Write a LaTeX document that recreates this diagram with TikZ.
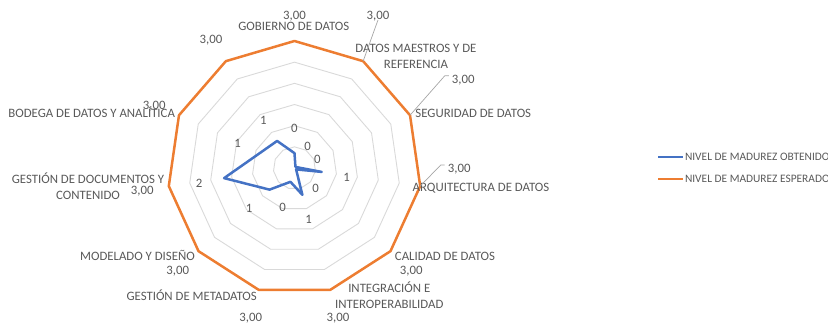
\documentclass[tikz,border=0pt]{standalone}
\usepackage{fontspec}
\setmainfont{Carlito}
\usepackage{xcolor}
\usetikzlibrary{positioning, calc}
\definecolor{GridGray}{RGB}{217,217,217}
\definecolor{TextGray}{RGB}{89,89,89}
\definecolor{LeaderGray}{RGB}{166,166,166}
\definecolor{ObtBlue}{RGB}{68,114,196}
\definecolor{EspOrange}{RGB}{237,125,49}
\tikzstyle{ring} = [GridGray, line width=0.9pt, line join=round]
\tikzstyle{serie} = [line width=2.5pt, line join=round]
\tikzstyle{etiqueta} = [font=\fontsize{12.8}{15.5}\selectfont, text=TextGray, inner sep=0pt, align=center, anchor=base]
\tikzstyle{leyenda} = [font=\fontsize{11.4}{14}\selectfont, text=TextGray, inner sep=0pt]
\tikzstyle{leader} = [LeaderGray, line width=0.7pt]

\begin{document}
\begin{tikzpicture}[x=1pt, y=-1pt]
\useasboundingbox (0,0) rectangle (828,325);
\begin{scope}[shift={(294.5,168)}]
  \foreach \k in {1,...,6} {
    \draw[ring] (-90:{127*\k/6}) \foreach \i in {1,...,10} {-- ({\i*360/11-90}:{127*\k/6})} -- cycle;
  }
  \foreach \i in {0,...,10} {
    \coordinate (v\i) at ({\i*360/11-90}:127);
  }
  \draw[serie, EspOrange] (v0) \foreach \i in {1,...,10} {-- (v\i)} -- cycle;
  \draw[serie, ObtBlue] (-90:{0.35*127/3}) \foreach \i/\v in {1/0.04, 2/0.05, 3/0.65, 4/0.05, 5/0.66, 6/0.34, 7/0.78, 8/1.68, 9/0.88, 10/0.76} {-- ({\i*360/11-90}:{\v*127/3})} -- cycle;
\end{scope}

\node[etiqueta] (cat0) at (293.8,30.1) {GOBIERNO DE DATOS};
\node[etiqueta] (cat1) at (416,68.1) {DATOS MAESTROS Y DE\\REFERENCIA};
\node[etiqueta] (cat2) at (473.3,117.4) {SEGURIDAD DE DATOS};
\node[etiqueta] (cat3) at (481,191.8) {ARQUITECTURA DE DATOS};
\node[etiqueta] (cat4) at (445,260.8) {CALIDAD DE DATOS};
\node[etiqueta] (cat5) at (389.3,308.1) {INTEGRACIÓN E\\INTEROPERABILIDAD};
\node[etiqueta] (cat6) at (191.7,300.8) {GESTIÓN DE METADATOS};
\node[etiqueta] (cat7) at (137.5,260.1) {MODELADO Y DISEÑO};
\node[etiqueta] (cat8) at (88,199.1) {GESTIÓN DE DOCUMENTOS Y\\CONTENIDO};
\node[etiqueta] (cat9) at (91.7,117.4) {BODEGA DE DATOS Y ANALÍTICA};

\foreach \n/\x/\y in {0/294.5/15, 1/378/15, 2/463.3/79, 3/459.2/168.3, 4/411.2/270, 5/338/317.3, 6/250.8/317.3, 7/177.8/270, 8/142.2/190, 9/154.2/105, 10/211/39.3} {
  \node[etiqueta] (val\n) at (\x,\y+4.1) {3,00};
}
\draw[leader] (v1) -- ($(val1.south)+(0,-1)$);
\draw[leader] (v2) -- ($(val2.west)+(-7,-4)$) -- ($(val2.west)+(-3,-4)$);
\draw[leader] (v3) -- ($(val3.west)+(-7,-4)$) -- ($(val3.west)+(-3,-4)$);

\foreach \n/\x/\y/\t in {0/294.3/128.3/0, 1/307.7/146.7/0, 2/317.3/159/0, 3/346.7/177.3/1, 4/315.7/188.3/0, 5/308.7/219.3/1, 6/282.7/207.3/0, 7/249/208.3/1, 8/199/183/2, 9/237.7/143.3/1, 10/263.3/120/1} {
  \node[etiqueta] (dato\n) at (\x,\y+4.1) {\t};
}

\coordinate (leyA1) at (658.3,157.3);
\coordinate (leyA2) at (683.3,157.3);
\coordinate (leyB1) at (658.3,179.3);
\coordinate (leyB2) at (683.3,179.3);
\draw[ObtBlue, line width=2.2pt] (leyA1) -- (leyA2);
\draw[EspOrange, line width=2.2pt] (leyB1) -- (leyB2);
\node[leyenda, anchor=west, right=1.5pt of leyA2] (leyA) {NIVEL DE MADUREZ OBTENIDO};
\node[leyenda, anchor=west, right=1.5pt of leyB2] (leyB) {NIVEL DE MADUREZ ESPERADO};
\end{tikzpicture}
\end{document}
